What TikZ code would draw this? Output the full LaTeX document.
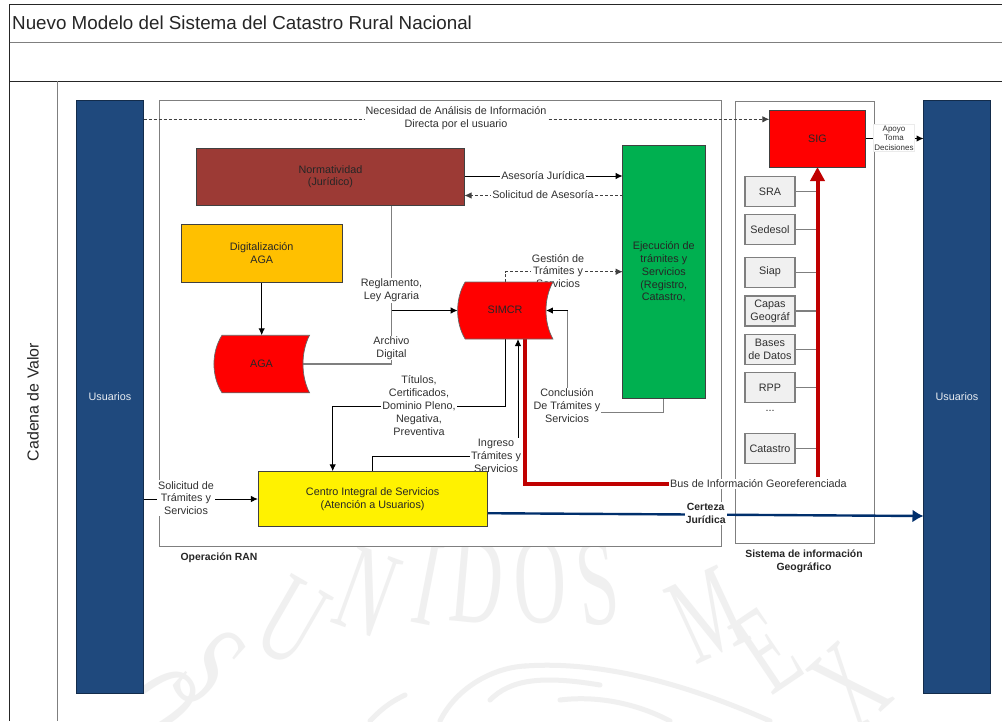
\documentclass[tikz,border=0pt]{standalone}
\usepackage{fontspec}
\setmainfont{Liberation Sans}
\newfontfamily\wmfont{Liberation Serif}
\usetikzlibrary{arrows.meta,calc}
\definecolor{navy}{HTML}{1F497D}
\definecolor{busred}{HTML}{C00000}
\definecolor{certeza}{HTML}{002F6C}
\definecolor{wine}{HTML}{9C3A35}
\definecolor{wm}{HTML}{F0F0F0}
\definecolor{txt}{HTML}{303030}
\definecolor{linegray}{HTML}{7F7F7F}
\newcommand{\wmletter}[1]{\scalebox{.58}[1]{#1}}
\tikzset{
  bx/.style={rectangle,inner sep=0pt,outer sep=0pt,align=center,font=\fontsize{10.8}{12.8}\selectfont,text=txt},
  colbox/.style={bx,draw=black!75,line width=0.9pt,text=black!85},
  smallbox/.style={bx,draw=linegray,line width=1.2pt,fill=black!6,minimum width=50pt,minimum height=30pt},
  bar/.style={bx,fill=navy,draw=black!40!navy,line width=0.6pt,minimum width=67pt,minimum height=593pt},
  frame/.style={draw=linegray,line width=1pt},
  lbl/.style={align=center,inner sep=1pt,font=\fontsize{10.8}{12.8}\selectfont,text=txt,fill=white},
  boldlbl/.style={align=center,inner sep=1pt,font=\fontsize{10.4}{12.8}\selectfont\bfseries,text=black!85},
  conn/.style={draw=black,line width=1pt,-{Latex[length=7pt,width=6.5pt]}},
  dconn/.style={conn,draw=black!75,line width=.9pt,dash pattern=on 3pt off 2pt},
  grayline/.style={draw=linegray,line width=1.2pt},
  wmark/.style={text=wm,font=\wmfont\fontsize{125}{125}\selectfont,inner sep=0pt},
  wmcurve/.style={draw=wm,line width=5pt,line cap=round}
}
\begin{document}
\begin{tikzpicture}[x=1pt,y=-1pt]
\useasboundingbox (0,0) rectangle (1002,721);
\fill[white] (0,0) rectangle (1002,721);
\begin{scope}
\clip (144,547) rectangle (923,721);
\node[wmark,rotate=-55] (wo1) at (158,705) {\wmletter{O}};
\node[wmark,rotate=-42] (ws1) at (210,668) {\wmletter{S}};
\node[wmark,rotate=-30] (wu) at (292,622) {\wmletter{U}};
\node[wmark,rotate=-20] (wn) at (367,592) {\wmletter{N}};
\node[wmark,rotate=-11] (wi) at (428,584) {\wmletter{I}};
\node[wmark,rotate=-5] (wd) at (477,582) {\wmletter{D}};
\node[wmark,rotate=2] (wo2) at (540,582) {\wmletter{O}};
\node[wmark,rotate=7] (ws2) at (598,584) {\wmletter{S}};
\node[wmark,rotate=25] (wm1) at (707,615) {\wmletter{M}};
\node[wmark,rotate=34] (we) at (767,650) {\wmletter{E}};
\node[wmark,rotate=42] (wx) at (850,686) {\wmletter{X}};
\draw[wmcurve] (525,666) .. controls (610,660) and (700,690) .. (770,721);
\draw[wmcurve] (440,721) .. controls (455,690) and (490,668) .. (525,666);
\draw[wmcurve] (490,700) .. controls (510,680) and (540,675) .. (600,685);
\draw[wmcurve] (560,700) .. controls (600,695) and (640,705) .. (670,721);
\draw[wmcurve] (370,721) .. controls (385,705) and (395,700) .. (405,695);
\end{scope}
% page frame
\draw[black!85,line width=1pt] (1002,4.5) -- (9.5,4.5) -- (9.5,721);
\draw[linegray,line width=1.2pt] (9.5,42.5) -- (1002,42.5);
\draw[black!85,line width=1pt] (9.5,81) -- (1002,81);
\draw[linegray,line width=1pt] (57,81) -- (57,721);
\node[anchor=west,inner sep=0pt,font=\fontsize{18.8}{22}\selectfont,text=black!85] (title) at (12,22.5) {Nuevo Modelo del Sistema del Catastro Rural Nacional};
\node[rotate=90,inner sep=0pt,font=\fontsize{15.9}{18}\selectfont,text=black!85] (cadena) at (33,402) {Cadena de Valor};
% group frames
\draw[frame] (159.5,100) rectangle (721,546);
\draw[frame] (735,101) rectangle (874,543);
\node[boldlbl,fill=none] (oper) at (219,558) {Operación RAN};
\node[boldlbl,fill=none] (sisinf) at (804,561.5) {Sistema de información\\Geográfico};
% nodes with outlines
\node[bar,text=white!90!navy] (usL) at (110,396.5) {Usuarios};
\node[bar,text=white!90!navy] (usR) at (957,396.5) {Usuarios};
\node[bx,minimum width=268pt,minimum height=57.5pt] (norm) at (330.5,176.7) {};
\node[bx,minimum width=160.5pt,minimum height=57.5pt] (digi) at (261.7,253.2) {};
\node[bx,minimum width=82.3pt,minimum height=253.4pt] (ejec) at (663.8,272) {};
\node[bx,minimum width=96.4pt,minimum height=57pt] (sig) at (817.5,138.5) {};
\node[bx,minimum width=229.3pt,minimum height=55.4pt] (cis) at (372.6,499) {};
\node[bx,minimum width=89pt,minimum height=57.5pt] (aga) at (258.5,364) {};
\node[bx,minimum width=88.3pt,minimum height=57pt] (simcr) at (501.8,310.5) {};
\node[smallbox] (sra) at (770,191.7) {SRA};
\node[smallbox] (sede) at (770,229.7) {Sedesol};
\node[smallbox] (siap) at (770,272.2) {Siap};
\node[smallbox] (capas) at (770,311) {Capas\\Geográf};
\node[smallbox] (bases) at (770,349.5) {Bases\\de Datos};
\node[smallbox] (rpp) at (770,387.3) {RPP};
\node[bx] (dots) at (770,411) {...};
\node[smallbox] (cata) at (770,448.7) {Catastro};
% helper coordinates
\coordinate (busTop) at (sig.south);
\coordinate (busBot) at (817.5,477);
\coordinate (simB) at (525,339);
% small-box feeders
\foreach \n in {sra,sede,siap,capas,bases,rpp,cata}
  \draw[grayline] (\n.east) -- (\n.east -| busTop);
% connectors
\coordinate (nL) at (143.5,119.3);
\draw[dconn] (nL) -- (nL -| sig.west);
\node[lbl] (lneces) at (456,118.5) {Necesidad de Análisis de Información\\Directa por el usuario};
\coordinate (apL) at (sig.east);
\draw[conn] (apL) -- (apL -| usR.west);
\node[lbl,draw=black!8,line width=.4pt,font=\fontsize{8}{9.6}\selectfont] (lapoyo) at (894,138) {Apoyo\\Toma\\Decisiones};
\coordinate (asA) at (464.5,176);
\draw[conn] (asA) -- (asA -| ejec.west);
\node[lbl] (lases) at (543,175.5) {Asesoría Jurídica};
\coordinate (soA) at (622.7,195.5);
\draw[dconn] (soA) -- (soA -| norm.east);
\node[lbl] (lsoli) at (543,195) {Solicitud de Asesoría};
% Normatividad / AGA to SIMCR
\coordinate (nx) at (391.5,205.5);
\draw[grayline] (nx) -- (nx |- aga.east) -- (aga.east);
\draw[conn] (nx |- simcr.west) -- (simcr.west);
\node[lbl] (lregl) at (391.5,290.5) {Reglamento,\\Ley Agraria};
\node[lbl] (larch) at (391.5,348) {Archivo\\Digital};
\draw[conn] (digi.south) -- (aga.north -| digi.south);
% Gestion
\coordinate (gA) at (505.3,282);
\draw[dconn] (gA) -- (505.3,271.7) -- (622.7,271.7);
\node[lbl,fill=white] (lgest) at (558,271) {Gestión de\\Trámites y\\Servicios};
% Conclusion
\coordinate (cC) at (567.7,412.3);
\draw[grayline] (ejec.south) -- (ejec.south |- cC) -- (cC) -- (cC |- simcr.east);
\draw[conn] (cC |- simcr.east) -- (simcr.east);
\node[lbl] (lconc) at (567,405.5) {Conclusión\\De Trámites y\\Servicios};
% Titulos
\coordinate (tA) at (505.3,339);
\coordinate (tB) at (332.7,406);
\draw[conn] (tA) -- (tA |- tB) -- (tB) -- (tB |- cis.north);
\node[lbl] (ltit) at (419,405.5) {Títulos,\\Certificados,\\Dominio Pleno,\\Negativa,\\Preventiva};
% Ingreso
\coordinate (iA) at (372.3,471.3);
\coordinate (iB) at (518,339);
\draw[conn] (iA) -- (372.3,456.7) -- (518,456.7) -- (iB);
\node[lbl] (ling) at (496,456) {Ingreso\\Trámites y\\Servicios};
% Solicitud
\draw[conn] (usL.east |- cis.west) -- (cis.west);
\node[lbl] (lsol) at (186,498) {Solicitud de\\Trámites y\\Servicios};
% Certeza
\coordinate (ceA) at (487.3,513.2);
\draw[draw=certeza,line width=2.4pt,-{Latex[length=11pt,width=13pt]}] (ceA) -- (usR.west |- 0,516);
\node[boldlbl,fill=white] (lcert) at (705.7,513.5) {Certeza\\Jurídica};
% Bus
\node[lbl,anchor=west] (lbus) at (669,484) {Bus de Información Georeferenciada};
\draw[busred,line width=4pt] (simB) -- (simB |- lbus) -- (lbus.west);
\draw[busred,line width=4pt,-{Triangle[length=14pt,width=14pt]}] (busBot) -- (busTop);
% coloured nodes on top
\node[colbox,fill=wine,minimum width=268pt,minimum height=57.5pt] at (norm) {Normatividad\\(Jurídico)};
\node[colbox,fill={rgb,255:red,255;green,192;blue,0},minimum width=160.5pt,minimum height=57.5pt] at (digi) {Digitalización\\AGA};
\node[colbox,fill={rgb,255:red,0;green,176;blue,80},minimum width=82.3pt,minimum height=253.4pt] at (ejec) {Ejecución de\\trámites y\\Servicios\\(Registro,\\Catastro,};
\node[colbox,fill=red,minimum width=96.4pt,minimum height=57pt] at (sig) {SIG};
\node[colbox,fill=yellow,minimum width=229.3pt,minimum height=55.4pt] at (cis) {Centro Integral de Servicios\\(Atención a Usuarios)};
% data-store shapes
\draw[fill=red,draw=black!60,line width=.7pt]
  ($(aga.north west)+(8,0)$) -- ($(aga.north east)+(6.5,0)$)
  .. controls ($(aga.east)+(-2.2,-12)$) and ($(aga.east)+(-2.2,12)$) .. ($(aga.south east)+(6.5,0)$)
  -- ($(aga.south west)+(8,0)$)
  .. controls ($(aga.west)+(-2.7,12)$) and ($(aga.west)+(-2.7,-12)$) .. cycle;
\node[bx,text=black!85] (agat) at (261.5,364) {AGA};
\draw[fill=red,draw=black!60,line width=.7pt]
  ($(simcr.north west)+(7.5,0)$) -- ($(simcr.north east)+(7,0)$)
  .. controls ($(simcr.east)+(-2.3,-12)$) and ($(simcr.east)+(-2.3,12)$) .. ($(simcr.south east)+(7,0)$)
  -- ($(simcr.south west)+(7.5,0)$)
  .. controls ($(simcr.west)+(-2.5,12)$) and ($(simcr.west)+(-2.5,-12)$) .. cycle;
\node[bx,text=black!85] (simt) at (505,310) {SIMCR};
\end{tikzpicture}
\end{document}
